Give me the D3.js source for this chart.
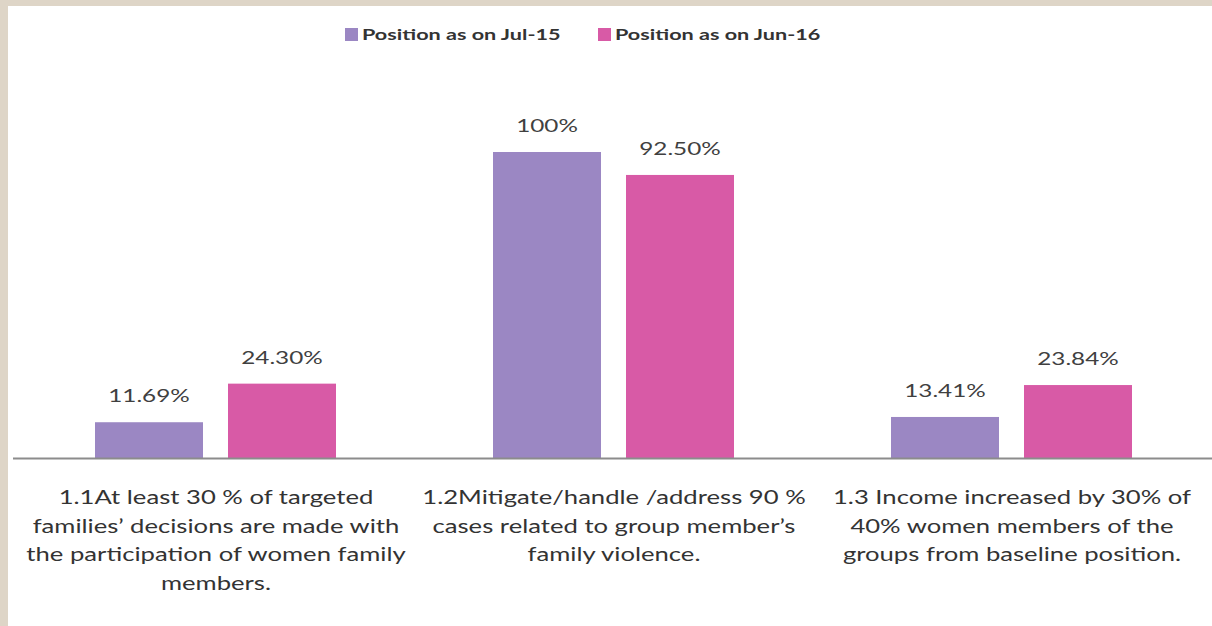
<!DOCTYPE html>
<html><head><meta charset="utf-8">
<script src="https://cdn.jsdelivr.net/npm/d3@7"></script>
<style>
html,body{margin:0;padding:0;background:#ded5c7;}
svg{display:block;}
</style></head>
<body>
<svg id="chart" width="1212" height="626"></svg>
<script>
const categories = [
  ["1.1At least 30 % of targeted", "families’ decisions are made with", "the participation of women family", "members."],
  ["1.2Mitigate/handle /address 90 %", "cases related to group member’s", "family violence."],
  ["1.3 Income increased by 30% of", "40% women members of the", "groups from baseline position."]
];
const seriesNames = ["Position as on Jul-15", "Position as on Jun-16"];
const jul15 = [11.69, 100, 13.41];
const jun16 = [24.30, 92.50, 23.84];
const jul15Labels = ["11.69%", "100%", "13.41%"];
const jun16Labels = ["24.30%", "92.50%", "23.84%"];
const colors = ["#9b87c3", "#d85aa6"];

const svg = d3.select("#chart");
const font = "Lato, 'Open Sans', sans-serif";
const stretch = 1.35;

svg.append("rect").attr("x", 8).attr("y", 6).attr("width", 1204).attr("height", 620).attr("fill", "#ffffff");

const x0 = d3.scaleBand().domain(d3.range(categories.length)).range([17, 1211]);
const x1 = d3.scaleBand().domain([0, 1]).range([78, 319]).paddingInner(25 / 133).paddingOuter(0);
const y = d3.scaleLinear().domain([0, 100]).range([458, 152]);

const series = [jul15, jun16];
const labels = [jul15Labels, jun16Labels];

series.forEach((vals, s) => {
  svg.append("g").selectAll("rect").data(vals).join("rect")
    .attr("x", (d, i) => x0(i) + x1(s))
    .attr("y", d => y(d))
    .attr("width", x1.bandwidth())
    .attr("height", d => y(0) - y(d))
    .attr("fill", colors[s]);
  svg.append("g").selectAll("g").data(vals).join("g")
    .attr("transform", (d, i) => `translate(${x0(i) + x1(s) + x1.bandwidth() / 2},${y(d) - 20}) scale(${stretch},1)`)
    .append("text")
    .attr("text-anchor", "middle")
    .attr("font-family", font)
    .attr("font-size", 18)
    .attr("fill", "#404040")
    .text((d, i) => labels[s][i]);
});

// axis baseline
svg.append("line").attr("x1", 13).attr("x2", 1212).attr("y1", 458.5).attr("y2", 458.5)
  .attr("stroke", "#8c8c8c").attr("stroke-width", 2);

// category labels
const cat = svg.append("g").selectAll("g").data(categories).join("g")
  .attr("transform", (d, i) => `translate(${x0(i) + x0.bandwidth() / 2},504) scale(${stretch},1)`)
  .append("text")
  .attr("text-anchor", "middle")
  .attr("font-family", font)
  .attr("font-size", 19)
  .attr("fill", "#333");
cat.selectAll("tspan").data(d => d).join("tspan")
  .attr("x", 0)
  .attr("dy", (d, j) => j === 0 ? 0 : 28.7)
  .text(d => d);

// legend
const legendX = [345, 598];
const lg = svg.append("g").selectAll("g").data(seriesNames).join("g")
  .attr("transform", (d, i) => `translate(${legendX[i]},28)`);
lg.append("rect").attr("width", 13).attr("height", 13).attr("fill", (d, i) => colors[i]);
lg.append("text").attr("transform", `translate(17,12) scale(${stretch},1)`).attr("font-family", font)
  .attr("font-size", 16).attr("font-weight", "bold").attr("fill", "#333").text(d => d);
</script>
</body></html>
